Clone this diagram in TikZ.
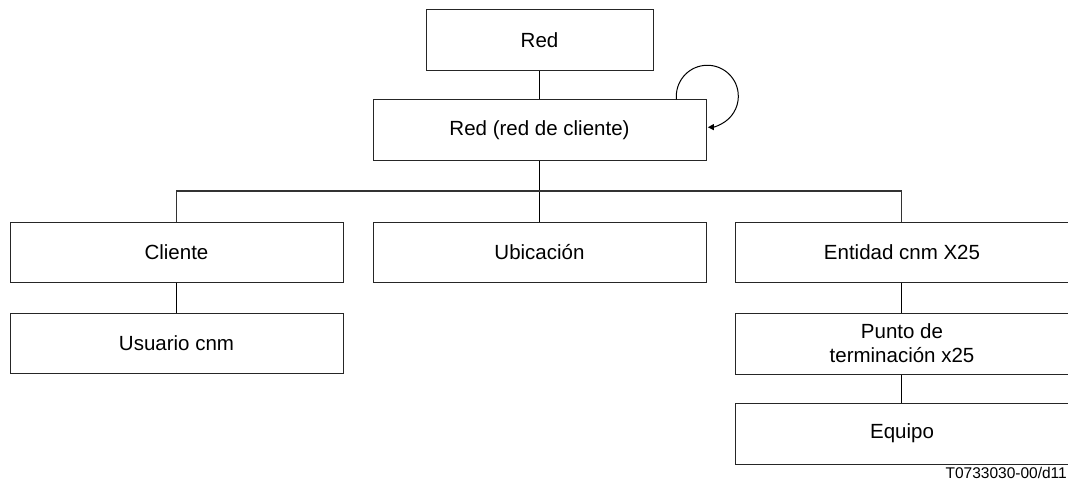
\documentclass[tikz,border=0pt]{standalone}
\usepackage{fontspec}
\setmainfont{Liberation Sans}
\usetikzlibrary{arrows.meta}
\begin{document}
\begin{tikzpicture}[x=1pt,y=-1pt,
  box/.style={draw=black!85,line width=1pt,minimum width=333pt,minimum height=60pt,
    inner sep=0pt,align=center,font=\fontsize{20.5}{24}\selectfont},
  conn/.style={draw=black,line width=1.3pt}]
\useasboundingbox (0,0) rectangle (1068,484);
\node[box,minimum width=227pt,minimum height=61pt] (red) at (539.5,40.5) {Red};
\node[box] (rc) at (539.5,130) {Red (red de cliente)};
\node[box] (cli) at (176.5,252) {Cliente};
\node[box] (ubi) at (539.5,252) {Ubicación};
\node[box,minimum width=334pt] (ent) at (902,252) {Entidad cnm X25};
\node[box] (usu) at (176.5,343) {Usuario cnm};
\node[box,minimum width=334pt,minimum height=61pt] (pun) at (902,343.5) {Punto de\\terminación x25};
\node[box,minimum width=334pt,minimum height=61pt] (equ) at (902,433.5) {Equipo};
\coordinate (bus) at (539.5,191);
\draw[conn] (red.south) -- (rc.north);
\draw[conn] (rc.south) -- (ubi.north);
\draw[line width=1.2pt,black!80] (cli.north) |- (bus) -| ([xshift=-0.5pt]ent.north);
\draw[conn,line width=1pt] (cli.south) -- (usu.north);
\draw[conn,line width=1pt] ([xshift=-0.5pt]ent.south) -- ([xshift=-0.5pt]pun.north);
\draw[conn,line width=1pt] ([xshift=-0.5pt]pun.south) -- ([xshift=-0.5pt]equ.north);
\draw[line width=1pt,-{Triangle[length=6pt,width=6pt]}] ([xshift=-30pt]rc.north east) arc[start angle=174,end angle=449,radius=31];
\node[anchor=east,inner sep=0pt,font=\fontsize{15.5}{18}\selectfont] (lbl) at (1067,473) {T0733030-00/d11};
\end{tikzpicture}
\end{document}
